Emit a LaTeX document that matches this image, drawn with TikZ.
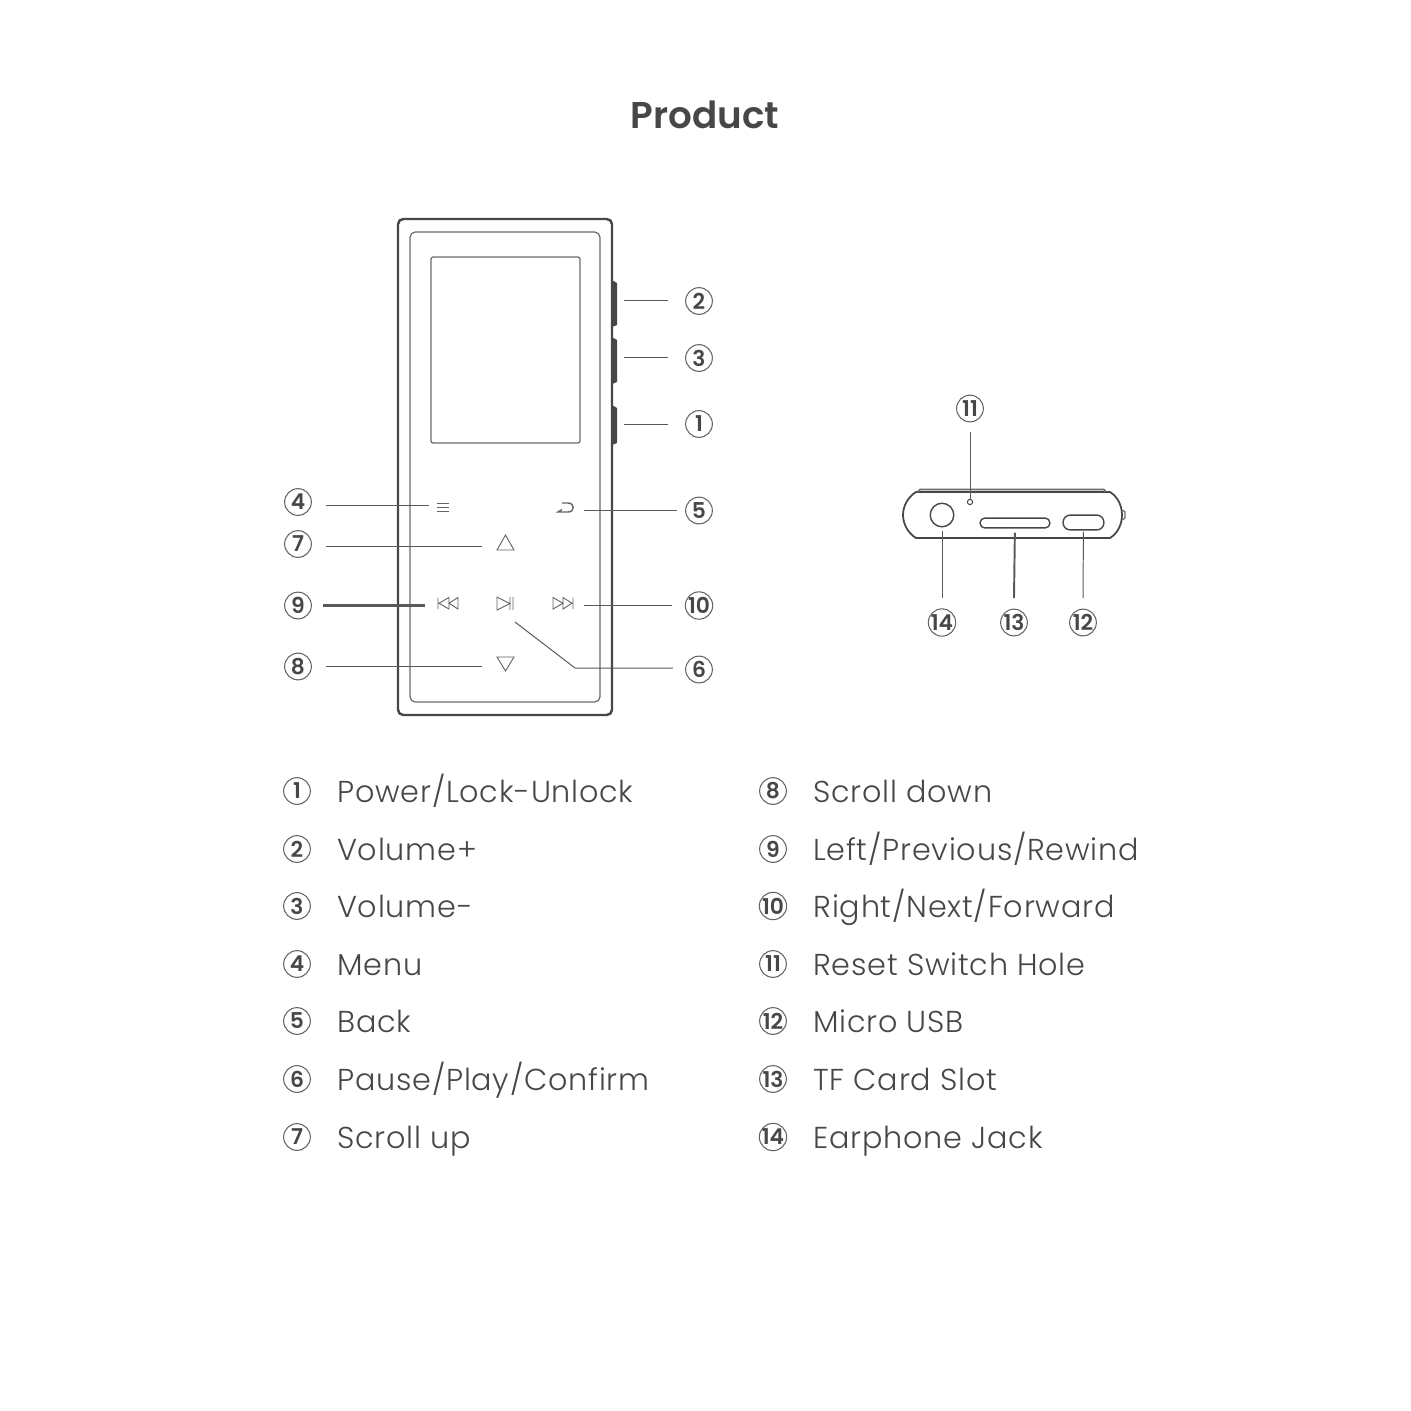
\documentclass[tikz,border=0pt]{standalone}
\usepackage{fontspec}
\setmainfont{Poppins}[UprightFont=* Light,BoldFont=* SemiBold]
\newfontfamily\legendfont{Poppins Light}[LetterSpace=2.6]
\usetikzlibrary{positioning}
\definecolor{inkgray}{HTML}{474747}
\begin{document}
\begin{tikzpicture}[x=0.01cm,y=-0.01cm,node distance=7.3pt,
     badge/.style={circle, draw=inkgray!85, line width=0.3pt, inner sep=0pt, minimum size=7.6pt, text=inkgray, font=\fontsize{6.2}{6}\selectfont\bfseries},
     legend/.style={inner sep=0pt, yshift=-0.85pt, text=inkgray, text height=6.4pt, text depth=1.8pt, font=\fontsize{8.6}{10}\legendfont},
     body/.style={draw=inkgray, line width=0.7pt, rounded corners=1.5pt},
     thin line/.style={draw=inkgray!80, line width=0.35pt},
     callout/.style={draw=inkgray!90, line width=0.28pt, shorten >=#1*0.2845pt},
     icon/.style={draw=inkgray!85, line width=0.26pt, line join=miter}]
     \useasboundingbox (0,0) rectangle (1411,1411);
     \node (title) at (705,115) [text=inkgray, inner sep=0pt, font=\fontsize{10.6}{13}\selectfont\bfseries] {Product};
     % player front
     \draw [body] (398,219) rectangle (612,715);
     \draw [thin line, rounded corners=1.5pt] (410,232) rectangle (600,702);
     \draw [thin line, rounded corners=0.6pt] (431,257) rectangle (580,443);
     \fill [inkgray] (612,280) -- (617,283) -- (617,325) -- (612,327) -- cycle;
     \fill [inkgray] (612,337) -- (617,340) -- (617,382) -- (612,384) -- cycle;
     \fill [inkgray] (612,405) -- (617,408) -- (617,443) -- (612,445) -- cycle;
     % touch keys
     \draw [icon] (437,503.5) -- (449,503.5) (437,507.5) -- (449,507.5) (437,511.5) -- (449,511.5);
     \draw [icon, line width=0.4pt] (562,503) -- (568,503) .. controls (575,503) and (575,512) .. (568,512) -- (558,512) -- (562,509.5);
     \draw [icon] (497,550) -- (514,550) -- (505.5,535) -- cycle;
     \draw [icon] (497,657) -- (514,657) -- (505.5,671) -- cycle;
     \draw [icon] (497,597) -- (497,610) -- (510,603.5) -- cycle (510,597) -- (510,610) (513,597) -- (513,610);
     \draw [icon] (438,597.5) -- (438,609) (458,597.5) -- (458,609) -- (449,603.2) -- cycle (449,597.5) -- (449,609) -- (439,603.2) -- cycle;
     \draw [icon] (573,597.5) -- (573,609) (553,597.5) -- (553,609) -- (563,603.2) -- cycle (563,597.5) -- (563,609) -- (572,603.2) -- cycle;
     % callouts on the front
     \node (n2) at (699,301) [badge] {2};\node (n3) at (699,358) [badge] {3};\node (n1) at (699,424) [badge] {1};
     \node (n4) at (298,502) [badge] {4};\node (n5) at (699,510.5) [badge] {5};\node (n7) at (298,544) [badge] {7};
     \node (n9) at (298,605.5) [badge] {9};\node (n10) at (699,605.5) [badge] {10};\node (n8) at (298,666.5) [badge] {8};
     \node (n6) at (699,669.5) [badge] {6};
     \coordinate (c2) at (624,300);\coordinate (c3) at (624,357);\coordinate (c1) at (624,424);
     \coordinate (c4) at (429,505);\coordinate (c5) at (584,510);\coordinate (c7) at (482,546);
     \coordinate (c9) at (425,605.5);\coordinate (c10) at (584,605);\coordinate (c8) at (482,666);
     \coordinate (c6) at (515,622);\coordinate (k6) at (575,668);
     \draw [callout=31] (c2) -- (c2 -| n2);\draw [callout=31] (c3) -- (c3 -| n3);\draw [callout=31] (c1) -- (c1 -| n1);
     \draw [callout=28] (c4) -- (c4 -| n4);\draw [callout=22] (c5) -- (c5 -| n5);\draw [callout=28] (c7) -- (c7 -| n7);
     \draw [callout=25, line width=0.6pt] (c9) -- (c9 -| n9);\draw [callout=27] (c10) -- (c10 -| n10);\draw [callout=28] (c8) -- (c8 -| n8);
     \draw [callout=26] (c6) -- (k6) -- (k6 -| n6);
     % player bottom
     \draw [draw=inkgray, line width=0.5pt] (916,492) -- (1110,492) .. controls (1118,497) and (1122,506) .. (1122,515) .. controls (1122,524) and (1118,533) .. (1110,538) -- (916,538) .. controls (908,533) and (903,524) .. (903,515) .. controls (903,506) and (908,497) .. (916,492) -- cycle;
     \draw [thin line, line width=0.5pt] (918,492) -- (920,489.5) -- (1104,489.5) -- (1106,492);
     \draw [thin line] (1122.5,510) -- (1125,512) -- (1125,518) -- (1122.5,520);
     \node (jack) at (942,515) [circle, draw=inkgray, line width=0.4pt, inner sep=0pt, minimum size=6.7pt] {};
     \node (hole) at (970,502) [circle, draw=inkgray, line width=0.3pt, inner sep=0pt, minimum size=1.5pt] {};
     \node (slot) at (1015,523) [rounded corners=1.3pt, draw=inkgray, line width=0.4pt, inner sep=0pt, minimum width=19.8pt, minimum height=2.8pt] {};
     \node (usb) at (1083.5,522.5) [rounded corners=2pt, draw=inkgray, line width=0.4pt, inner sep=0pt, minimum width=11.6pt, minimum height=4.2pt] {};
     \node (n11) at (970,408.5) [badge] {11};\node (n14) at (942,622.5) [badge] {14};
     \node (n13) at (1014,622.5) [badge] {13};\node (n12) at (1083,622.5) [badge] {12};
     \coordinate (c11) at (970,432);\coordinate (c14) at (942,598);\coordinate (c13) at (1014,598);\coordinate (c12) at (1083,598);
     \draw [callout=0] (c11) -- (hole);
     \draw [callout=4] (c14) -- (jack);\draw [callout=4, line width=0.55pt] (c13) -- (slot);\draw [callout=1] (c12) -- (usb);
     % legend
     \node (l1) at (297,791) [badge] {1};\node (t1) [legend, right=of l1] {Power/Lock-Unlock};
     \node (l2) at (297,849) [badge] {2};\node (t2) [legend, right=of l2] {Volume+};
     \node (l3) at (297,906) [badge] {3};\node (t3) [legend, right=of l3] {Volume-};
     \node (l4) at (297,964) [badge] {4};\node (t4) [legend, right=of l4] {Menu};
     \node (l5) at (297,1021) [badge] {5};\node (t5) [legend, right=of l5] {Back};
     \node (l6) at (297,1079) [badge] {6};\node (t6) [legend, right=of l6] {Pause/Play/Confirm};
     \node (l7) at (297,1137) [badge] {7};\node (t7) [legend, right=of l7] {Scroll up};
     \node (l8) at (773,791) [badge] {8};\node (t8) [legend, right=of l8] {Scroll down};
     \node (l9) at (773,849) [badge] {9};\node (t9) [legend, right=of l9] {Left/Previous/Rewind};
     \node (l10) at (773,906) [badge] {10};\node (t10) [legend, right=of l10] {Right/Next/Forward};
     \node (l11) at (773,964) [badge] {11};\node (t11) [legend, right=of l11] {Reset Switch Hole};
     \node (l12) at (773,1021) [badge] {12};\node (t12) [legend, right=of l12] {Micro USB};
     \node (l13) at (773,1079) [badge] {13};\node (t13) [legend, right=of l13] {TF Card Slot};
     \node (l14) at (773,1137) [badge] {14};\node (t14) [legend, right=of l14] {Earphone Jack};
\end{tikzpicture}
\end{document}
